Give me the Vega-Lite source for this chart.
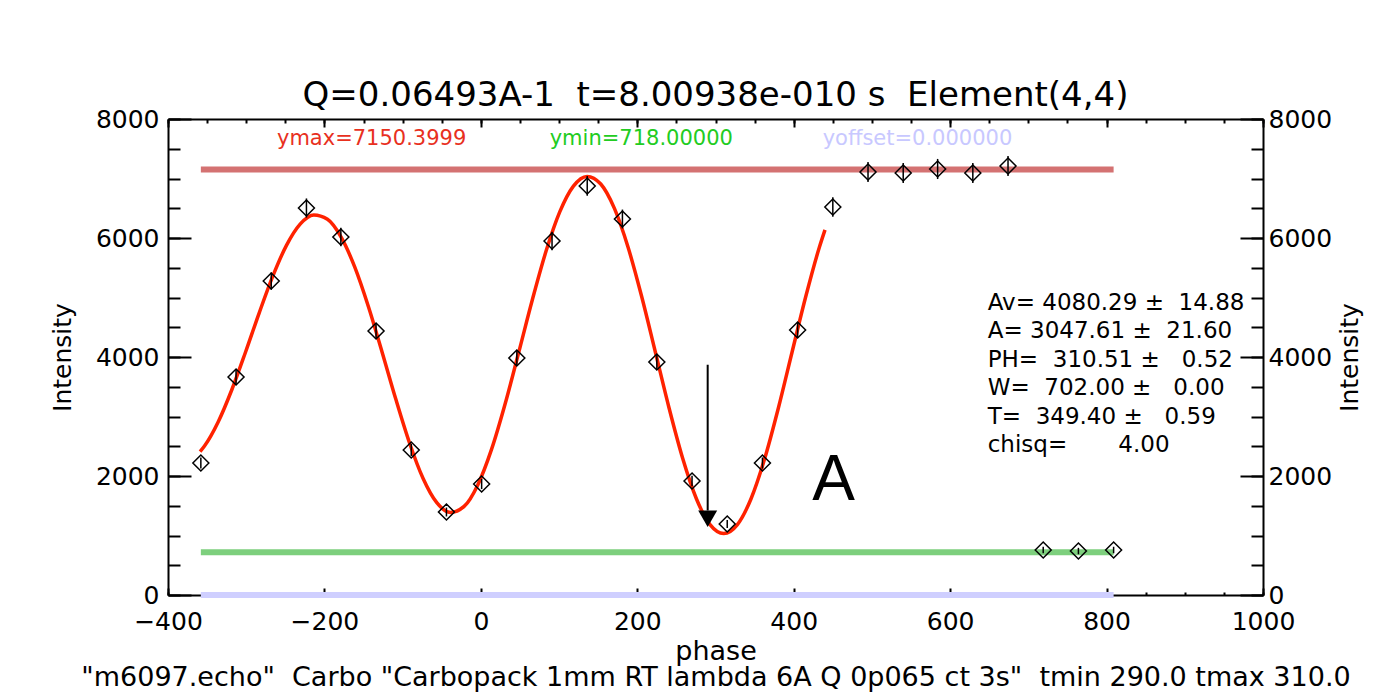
{
  "$schema": "https://vega.github.io/schema/vega-lite/v6.json",
  "width": 1095,
  "height": 476,
  "autosize": {"type": "none"},
  "padding": {"left": 168, "top": 119, "right": 111, "bottom": 102},
  "background": "white",
  "config": {
    "font": "DejaVu Sans",
    "view": {"stroke": null},
    "axis": {
      "grid": false,
      "domainColor": "black",
      "tickColor": "black",
      "labelColor": "black",
      "titleColor": "black",
      "labelFont": "DejaVu Sans",
      "titleFont": "DejaVu Sans",
      "labelFontSize": 25,
      "titleFontSize": 25,
      "titleFontWeight": "normal",
      "labelFlush": false,
      "labelOverlap": false,
      "domainWidth": 2,
      "tickWidth": 2,
      "format": "d"
    }
  },
  "title": {
    "text": "Q=0.06493A-1\u00a0 t=8.00938e-010 s\u00a0 Element(4,4)",
    "fontSize": 34,
    "fontWeight": "normal",
    "font": "DejaVu Sans",
    "color": "black",
    "frame": "group",
    "anchor": "middle",
    "baseline": "alphabetic",
    "offset": -33
  },
  "datasets": {
    "refs": [
      {"name": "ymax", "level": 7150.3999, "start": -358, "end": 809},
      {"name": "ymin", "level": 718, "start": -358, "end": 809},
      {"name": "yoffset", "level": 0, "start": -358, "end": 809}
    ],
    "fit": [
      {"phase": -359, "intensity": 2409},
      {"phase": -353.35, "intensity": 2503.6},
      {"phase": -335.88, "intensity": 2907.9},
      {"phase": -318.41, "intensity": 3449.8},
      {"phase": -300.94, "intensity": 4080.3},
      {"phase": -283.47, "intensity": 4738.7},
      {"phase": -266.0, "intensity": 5358.9},
      {"phase": -248.53, "intensity": 5875.9},
      {"phase": -231.06, "intensity": 6232.8},
      {"phase": -213.59, "intensity": 6386.7},
      {"phase": -196.12, "intensity": 6314.2},
      {"phase": -178.65, "intensity": 6014.4},
      {"phase": -161.18, "intensity": 5509.7},
      {"phase": -143.71, "intensity": 4844.2},
      {"phase": -126.24, "intensity": 4080.3},
      {"phase": -108.77, "intensity": 3292.4},
      {"phase": -91.3, "intensity": 2559.6},
      {"phase": -73.83, "intensity": 1957.9},
      {"phase": -56.36, "intensity": 1551.8},
      {"phase": -38.89, "intensity": 1387.7},
      {"phase": -21.42, "intensity": 1488.4},
      {"phase": -3.95, "intensity": 1850.1},
      {"phase": 13.52, "intensity": 2442.3},
      {"phase": 30.99, "intensity": 3210.3},
      {"phase": 48.46, "intensity": 4080.3},
      {"phase": 65.93, "intensity": 4966.6},
      {"phase": 83.4, "intensity": 5780.3},
      {"phase": 100.87, "intensity": 6438.4},
      {"phase": 118.34, "intensity": 6872.2},
      {"phase": 135.81, "intensity": 7035.0},
      {"phase": 153.28, "intensity": 6907.0},
      {"phase": 170.75, "intensity": 6497.5},
      {"phase": 188.22, "intensity": 5844.7},
      {"phase": 205.69, "intensity": 5011.6},
      {"phase": 223.16, "intensity": 4080.3},
      {"phase": 240.63, "intensity": 3143.2},
      {"phase": 258.1, "intensity": 2293.9},
      {"phase": 275.57, "intensity": 1617.8},
      {"phase": 293.04, "intensity": 1182.7},
      {"phase": 310.51, "intensity": 1032.7},
      {"phase": 327.98, "intensity": 1182.7},
      {"phase": 345.45, "intensity": 1617.8},
      {"phase": 362.92, "intensity": 2293.9},
      {"phase": 380.39, "intensity": 3143.2},
      {"phase": 397.86, "intensity": 4080.3},
      {"phase": 415.33, "intensity": 5011.6},
      {"phase": 432.8, "intensity": 5844.7},
      {"phase": 440, "intensity": 6137}
    ],
    "obs": [
      {"phase": -358, "intensity": 2218, "err": 94},
      {"phase": -313, "intensity": 3664, "err": 121},
      {"phase": -268, "intensity": 5277, "err": 145},
      {"phase": -223, "intensity": 6504, "err": 161},
      {"phase": -179, "intensity": 6017, "err": 155},
      {"phase": -134, "intensity": 4437, "err": 133},
      {"phase": -89, "intensity": 2437, "err": 99},
      {"phase": -44, "intensity": 1395, "err": 75},
      {"phase": 1, "intensity": 1866, "err": 86},
      {"phase": 46, "intensity": 3983, "err": 126},
      {"phase": 91, "intensity": 5950, "err": 154},
      {"phase": 136, "intensity": 6874, "err": 166},
      {"phase": 181, "intensity": 6319, "err": 159},
      {"phase": 225, "intensity": 3916, "err": 125},
      {"phase": 270, "intensity": 1916, "err": 88},
      {"phase": 315, "intensity": 1193, "err": 69},
      {"phase": 360, "intensity": 2218, "err": 94},
      {"phase": 405, "intensity": 4454, "err": 133},
      {"phase": 450, "intensity": 6521, "err": 162},
      {"phase": 495, "intensity": 7109, "err": 169},
      {"phase": 540, "intensity": 7092, "err": 168},
      {"phase": 584, "intensity": 7160, "err": 169},
      {"phase": 629, "intensity": 7092, "err": 168},
      {"phase": 674, "intensity": 7210, "err": 170},
      {"phase": 719, "intensity": 756, "err": 55},
      {"phase": 764, "intensity": 739, "err": 54},
      {"phase": 809, "intensity": 756, "err": 55}
    ]
  },
  "layer": [
    {
      "data": {"name": "refs"},
      "mark": {"type": "rule", "strokeWidth": 6},
      "encoding": {
        "x": {
          "field": "start", "type": "quantitative",
          "scale": {"domain": [-400, 1000], "nice": false, "zero": false},
          "axis": {
            "orient": "bottom",
            "values": [-400, -200, 0, 200, 400, 600, 800, 1000],
            "tickSize": -7, "labelPadding": 21,
            "title": ["phase", "\"m6097.echo\"\u00a0 Carbo \"Carbopack 1mm RT lambda 6A Q 0p065 ct 3s\"\u00a0 tmin 290.0 tmax 310.0"],
            "titleFontSize": 27, "titleLineHeight": 26, "titlePadding": 4
          }
        },
        "x2": {"field": "end"},
        "y": {
          "field": "level", "type": "quantitative",
          "scale": {"domain": [0, 8000], "nice": false, "zero": false},
          "axis": {
            "orient": "left",
            "values": [0, 2000, 4000, 6000, 8000],
            "tickSize": -23, "labelPadding": 32,
            "title": "Intensity", "titlePadding": 20
          }
        },
        "color": {
          "field": "name", "type": "nominal",
          "scale": {"domain": ["ymax", "ymin", "yoffset"], "range": ["#d47272", "#7dcf7d", "#cfcfff"]},
          "legend": null
        }
      }
    },
    {
      "data": {"name": "fit"},
      "mark": {"type": "line", "color": "#ff2200", "strokeWidth": 3.5, "interpolate": "monotone"},
      "encoding": {
        "x": {
          "field": "phase", "type": "quantitative",
          "scale": {"domain": [-400, 1000], "nice": false, "zero": false},
          "axis": {"orient": "top", "values": [-400, -200, 0, 200, 400, 600, 800, 1000], "tickSize": -8, "labels": false, "title": null}
        },
        "y": {
          "field": "intensity", "type": "quantitative",
          "scale": {"domain": [0, 8000], "nice": false, "zero": false},
          "axis": {
            "orient": "right",
            "values": [0, 2000, 4000, 6000, 8000],
            "tickSize": -23, "labelPadding": 28,
            "title": "Intensity", "titleAngle": 270, "titleBaseline": "top", "titlePadding": 6
          }
        }
      }
    },
    {
      "data": {"name": "obs"},
      "mark": {"type": "point", "shape": "diamond", "size": 256, "filled": false, "stroke": "black", "strokeWidth": 1.5, "opacity": 1},
      "encoding": {
        "x": {
          "field": "phase", "type": "quantitative",
          "scale": {"domain": [-400, 1000], "nice": false, "zero": false},
          "axis": {"orient": "bottom", "values": [-400, -350, -300, -250, -200, -150, -100, -50, 0, 50, 100, 150, 200, 250, 300, 350, 400, 450, 500, 550, 600, 650, 700, 750, 800, 850, 900, 950, 1000], "tickSize": -3, "labels": false, "domain": false, "title": null}
        },
        "y": {
          "field": "intensity", "type": "quantitative",
          "scale": {"domain": [0, 8000], "nice": false, "zero": false},
          "axis": {"orient": "left", "values": [0, 500, 1000, 1500, 2000, 2500, 3000, 3500, 4000, 4500, 5000, 5500, 6000, 6500, 7000, 7500, 8000], "tickSize": -12, "labels": false, "domain": false, "title": null}
        }
      }
    },
    {
      "data": {"name": "obs"},
      "mark": {"type": "errorbar", "color": "black", "thickness": 1.5},
      "encoding": {
        "x": {
          "field": "phase", "type": "quantitative",
          "scale": {"domain": [-400, 1000], "nice": false, "zero": false},
          "axis": {"orient": "top", "values": [-400, -350, -300, -250, -200, -150, -100, -50, 0, 50, 100, 150, 200, 250, 300, 350, 400, 450, 500, 550, 600, 650, 700, 750, 800, 850, 900, 950, 1000], "tickSize": -4, "labels": false, "domain": false, "title": null}
        },
        "y": {
          "field": "intensity", "type": "quantitative",
          "scale": {"domain": [0, 8000], "nice": false, "zero": false},
          "axis": {"orient": "right", "values": [0, 500, 1000, 1500, 2000, 2500, 3000, 3500, 4000, 4500, 5000, 5500, 6000, 6500, 7000, 7500, 8000], "tickSize": -12, "labels": false, "domain": false, "title": null}
        },
        "yError": {"field": "err"}
      }
    },
    {
      "data": {"values": [{}]},
      "mark": {"type": "rule", "strokeWidth": 2, "color": "black"},
      "encoding": {
        "x": {"datum": 290, "type": "quantitative", "axis": null},
        "y": {"datum": 3870, "type": "quantitative", "axis": null},
        "y2": {"datum": 1420}
      }
    },
    {
      "data": {"values": [{}]},
      "mark": {"type": "point", "shape": "triangle-down", "size": 360, "filled": true, "color": "black", "opacity": 1},
      "encoding": {
        "x": {"datum": 290, "type": "quantitative", "axis": null},
        "y": {"datum": 1280, "type": "quantitative", "axis": null}
      }
    },
    {
      "data": {"values": [{}]},
      "mark": {"type": "text", "text": "A", "font": "Liberation Sans", "fontSize": 64, "align": "center", "baseline": "alphabetic", "color": "black"},
      "encoding": {
        "x": {"datum": 451, "type": "quantitative", "axis": null},
        "y": {"datum": 1597, "type": "quantitative", "axis": null}
      }
    },
    {
      "data": {"values": [{}]},
      "mark": {"type": "text", "text": "ymax=7150.3999", "fontSize": 21, "align": "left", "baseline": "alphabetic", "color": "#e8301e"},
      "encoding": {
        "x": {"datum": -260.7, "type": "quantitative", "axis": null},
        "y": {"datum": 7563, "type": "quantitative", "axis": null}
      }
    },
    {
      "data": {"values": [{}]},
      "mark": {"type": "text", "text": "ymin=718.00000", "fontSize": 21, "align": "left", "baseline": "alphabetic", "color": "#22cc22"},
      "encoding": {
        "x": {"datum": 88, "type": "quantitative", "axis": null},
        "y": {"datum": 7563, "type": "quantitative", "axis": null}
      }
    },
    {
      "data": {"values": [{}]},
      "mark": {"type": "text", "text": "yoffset=0.000000", "fontSize": 21, "align": "left", "baseline": "alphabetic", "color": "#c8c8ff"},
      "encoding": {
        "x": {"datum": 437, "type": "quantitative", "axis": null},
        "y": {"datum": 7563, "type": "quantitative", "axis": null}
      }
    },
    {
      "data": {"values": [{}]},
      "mark": {
        "type": "text",
        "text": ["Av= 4080.29 ±\u00a0 14.88", "A= 3047.61 ±\u00a0 21.60", "PH=\u00a0 310.51 ±\u00a0\u00a0 0.52", "W=\u00a0 702.00 ±\u00a0\u00a0 0.00", "T=\u00a0 349.40 ±\u00a0\u00a0 0.59", "chisq=\u00a0\u00a0\u00a0\u00a0\u00a0\u00a0 4.00"],
        "fontSize": 23, "lineHeight": 28.5, "align": "left", "baseline": "alphabetic", "color": "black"
      },
      "encoding": {
        "x": {"datum": 648, "type": "quantitative", "axis": null},
        "y": {"datum": 4790, "type": "quantitative", "axis": null}
      }
    }
  ],
  "resolve": {"axis": {"x": "independent", "y": "independent"}}
}
